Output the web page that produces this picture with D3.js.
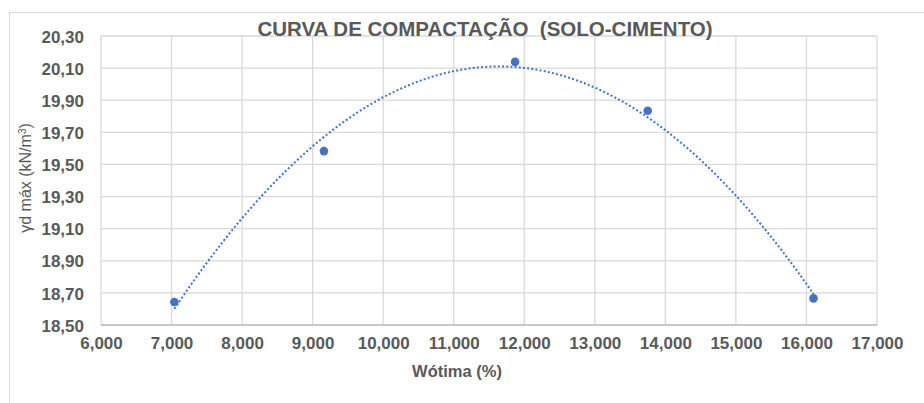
<!DOCTYPE html>
<html>
<head>
<meta charset="utf-8">
<script src="https://cdn.jsdelivr.net/npm/d3@7"></script>
<style>
  body { margin: 0; background: #fff; }
  svg { display: block; font-family: "Liberation Sans", Arial, sans-serif; }
</style>
</head>
<body>
<svg width="924" height="403"></svg>
<script>
// dados
const umidade = [7.04, 9.16, 11.87, 13.75, 16.10];
const densidade = [18.643, 19.583, 20.139, 19.834, 18.666];
const xTicks = [6, 7, 8, 9, 10, 11, 12, 13, 14, 15, 16, 17];
const yTicks = [18.5, 18.7, 18.9, 19.1, 19.3, 19.5, 19.7, 19.9, 20.1, 20.3];

const svg = d3.select("svg");
const margin = { left: 101, right: 924 - 877, top: 36, bottom: 403 - 325 };
const width = 924 - margin.left - margin.right;
const height = 403 - margin.top - margin.bottom;

const fmtX = v => d3.format(".3f")(v).replace(".", ",");
const fmtY = v => d3.format(".2f")(v).replace(".", ",");

// moldura do gráfico
svg.append("rect")
  .attr("x", 9.5).attr("y", 12.5)
  .attr("width", 940).attr("height", 420)
  .attr("fill", "none").attr("stroke", "#d9d9d9");

const x = d3.scaleLinear().domain([6, 17]).range([0, width]);
const y = d3.scaleLinear().domain([18.5, 20.3]).range([height, 0]);

const g = svg.append("g").attr("transform", `translate(${margin.left},${margin.top})`);

// grade
g.append("g").selectAll("line").data(yTicks).join("line")
  .attr("x1", 0).attr("x2", width)
  .attr("y1", d => y(d)).attr("y2", d => y(d))
  .attr("stroke", "#d9d9d9").attr("stroke-width", 1.3);
g.append("g").selectAll("line").data(xTicks).join("line")
  .attr("y1", 0).attr("y2", height)
  .attr("x1", d => x(d)).attr("x2", d => x(d))
  .attr("stroke", "#d9d9d9").attr("stroke-width", 1.3);

// eixos
const xAxis = g.append("g").attr("transform", `translate(0,${height})`)
  .call(d3.axisBottom(x).tickValues(xTicks).tickFormat(fmtX).tickSize(0).tickPadding(12));
const yAxis = g.append("g")
  .call(d3.axisLeft(y).tickValues(yTicks).tickFormat(fmtY).tickSize(0).tickPadding(17));
[xAxis, yAxis].forEach(a => {
  a.select(".domain").remove();
  a.selectAll("text")
    .attr("fill", "#595959")
    .attr("font-size", "17px")
    .attr("font-weight", "bold")
    .attr("font-family", "Liberation Sans, Arial, sans-serif");
});
yAxis.selectAll("text").attr("dy", "0.36em");
g.append("line")
  .attr("x1", 0).attr("x2", width).attr("y1", height).attr("y2", height)
  .attr("stroke", "#bfbfbf").attr("stroke-width", 1.3);

// linha de tendência polinomial (ordem 2, mínimos quadrados)
function ajustePoly2(xs, ys) {
  let s = [0, 0, 0, 0, 0], t = [0, 0, 0];
  for (let i = 0; i < xs.length; i++) {
    let p = 1;
    for (let k = 0; k < 5; k++) { s[k] += p; if (k < 3) t[k] += p * ys[i]; p *= xs[i]; }
  }
  const A = [[s[0], s[1], s[2], t[0]], [s[1], s[2], s[3], t[1]], [s[2], s[3], s[4], t[2]]];
  for (let c = 0; c < 3; c++) {
    for (let r = c + 1; r < 3; r++) {
      const f = A[r][c] / A[c][c];
      for (let k = c; k < 4; k++) A[r][k] -= f * A[c][k];
    }
  }
  const b = [0, 0, 0];
  for (let r = 2; r >= 0; r--) {
    let v = A[r][3];
    for (let k = r + 1; k < 3; k++) v -= A[r][k] * b[k];
    b[r] = v / A[r][r];
  }
  return xv => b[0] + b[1] * xv + b[2] * xv * xv;
}
const tend = ajustePoly2(umidade, densidade);
const xmin = d3.min(umidade), xmax = d3.max(umidade);
const amostras = d3.range(0, 101).map(i => xmin + (xmax - xmin) * i / 100);
g.append("path")
  .datum(amostras)
  .attr("fill", "none")
  .attr("stroke", "#4472c4")
  .attr("stroke-width", 2)
  .attr("stroke-dasharray", "2 2.2")
  .attr("d", d3.line().x(d => x(d)).y(d => y(tend(d))));

// pontos
g.append("g").selectAll("circle")
  .data(umidade.map((d, i) => [d, densidade[i]]))
  .join("circle")
  .attr("cx", d => x(d[0])).attr("cy", d => y(d[1]))
  .attr("r", 4.3).attr("fill", "#4472c4");

// títulos
svg.append("text")
  .attr("x", 485).attr("y", 36)
  .attr("text-anchor", "middle")
  .attr("font-size", "20.5px").attr("font-weight", "bold")
  .attr("fill", "#595959")
  .attr("xml:space", "preserve")
  .text("CURVA DE COMPACTAÇÃO  (SOLO-CIMENTO)");

svg.append("text")
  .attr("x", 457).attr("y", 377)
  .attr("text-anchor", "middle")
  .attr("font-size", "16.5px").attr("font-weight", "bold")
  .attr("fill", "#595959")
  .text("Wótima (%)");

svg.append("text")
  .attr("transform", "translate(31,178) rotate(-90)")
  .attr("text-anchor", "middle")
  .attr("font-size", "16px")
  .attr("fill", "#595959")
  .html("γd máx (kN/m<tspan baseline-shift='super' font-size='10px'>3</tspan>)");
</script>
</body>
</html>
